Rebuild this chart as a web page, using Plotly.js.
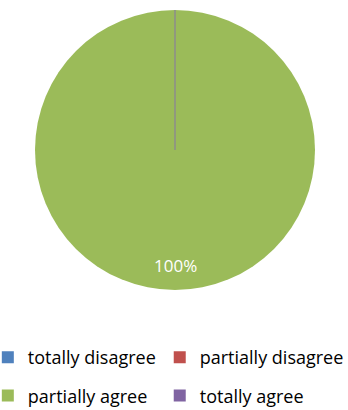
<!DOCTYPE html>
<html>
<head>
<meta charset="utf-8">
<script src="https://cdn.plot.ly/plotly-3.0.1.min.js"></script>
<style>
html,body{margin:0;padding:0;background:#fff;}
#chart{width:348px;height:410px;}
g[class*="legend"] .traces{opacity:1 !important;}
</style>
</head>
<body>
<div id="chart"></div>
<script>
const labels = ["totally disagree", "partially disagree", "partially agree", "totally agree"];
const values = [0, 0, 1, 0];
const colors = ["#4F81BD", "#C0504D", "#9BBB59", "#8064A2"];

const total = values.reduce((a, b) => a + b, 0);
const pctLabel = Math.round(100 * Math.max(...values) / total) + "%";

const W = 348, H = 410;
const cx = 175, cy = 150, r = 140;

const pie = {
  type: "pie",
  labels: labels,
  values: values,
  marker: {colors: colors, line: {width: 0}},
  sort: false,
  direction: "clockwise",
  rotation: 0,
  textinfo: "none",
  hoverinfo: "label+percent",
  showlegend: false,
  domain: {x: [(cx - r) / W, (cx + r) / W], y: [1 - (cy + r) / H, 1 - (cy - r) / H]}
};

// legend-only entries, one per category, laid out in two columns
const legendTraces = labels.map((lab, i) => ({
  type: "bar",
  x: [lab], y: [values[i]],
  name: lab,
  marker: {color: colors[i]},
  visible: "legendonly",
  showlegend: true,
  legend: (i % 2 === 0) ? "legend" : "legend2",
  legendgroup: "g" + i,
  hoverinfo: "skip"
}));

const legendBase = {
  orientation: "v",
  yanchor: "top",
  y: 1 - 339 / H,
  traceorder: "grouped",
  tracegroupgap: 12,
  font: {size: 18, color: "#000"},
  itemwidth: 30,
  indentation: -8,
  itemclick: false,
  itemdoubleclick: false,
  bgcolor: "rgba(0,0,0,0)"
};

const layout = {
  width: W, height: H,
  margin: {l: 0, r: 0, t: 0, b: 0, autoexpand: false},
  paper_bgcolor: "#fff",
  plot_bgcolor: "rgba(0,0,0,0)",
  font: {family: "'Open Sans', sans-serif", size: 18, color: "#000"},
  showlegend: true,
  xaxis: {visible: false},
  yaxis: {visible: false},
  legend: Object.assign({}, legendBase, {x: -0.012, xanchor: "left"}),
  legend2: Object.assign({}, legendBase, {x: 0.482, xanchor: "left"}),
  shapes: [{
    type: "line", xref: "paper", yref: "paper",
    x0: cx / W, x1: cx / W, y0: 1 - cy / H, y1: 1 - (cy - r) / H,
    line: {color: "#8C8C8C", width: 1.5}
  }],
  annotations: [{
    xref: "paper", yref: "paper",
    x: cx / W, y: 1 - 265 / H,
    text: pctLabel, showarrow: false,
    font: {size: 17, color: "#fff"},
    xanchor: "center", yanchor: "middle"
  }]
};

Plotly.newPlot("chart", [pie].concat(legendTraces), layout, {displayModeBar: false, staticPlot: true});
</script>
</body>
</html>
